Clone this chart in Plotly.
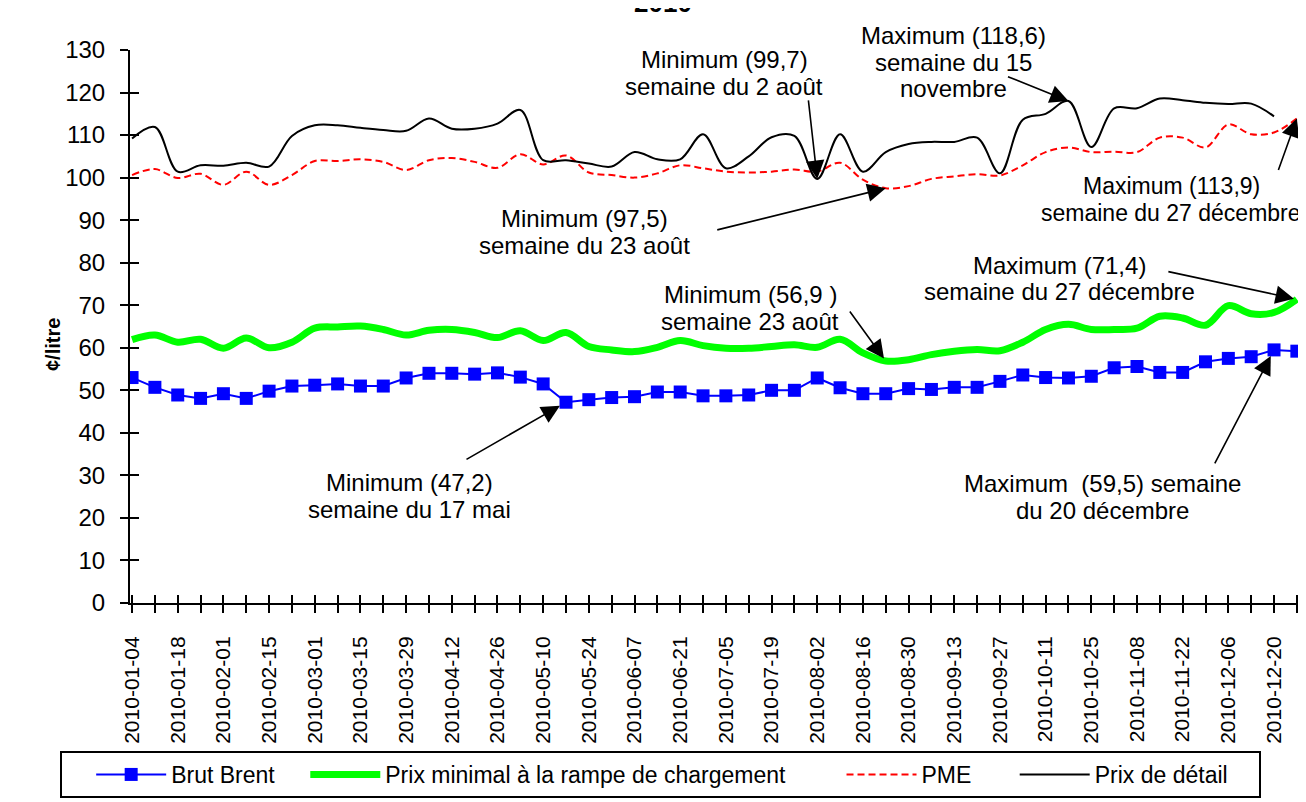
import plotly.graph_objects as go

weeks = ["2010-01-04", "2010-01-11", "2010-01-18", "2010-01-25", "2010-02-01", "2010-02-08",
         "2010-02-15", "2010-02-22", "2010-03-01", "2010-03-08", "2010-03-15", "2010-03-22",
         "2010-03-29", "2010-04-05", "2010-04-12", "2010-04-19", "2010-04-26", "2010-05-03",
         "2010-05-10", "2010-05-17", "2010-05-24", "2010-05-31", "2010-06-07", "2010-06-14",
         "2010-06-21", "2010-06-28", "2010-07-05", "2010-07-12", "2010-07-19", "2010-07-26",
         "2010-08-02", "2010-08-09", "2010-08-16", "2010-08-23", "2010-08-30", "2010-09-06",
         "2010-09-13", "2010-09-20", "2010-09-27", "2010-10-04", "2010-10-11", "2010-10-18",
         "2010-10-25", "2010-11-01", "2010-11-08", "2010-11-15", "2010-11-22", "2010-11-29",
         "2010-12-06", "2010-12-13", "2010-12-20", "2010-12-27"]

brent = [53.0, 50.7, 48.9, 48.1, 49.2, 48.1, 49.8, 51.0, 51.2, 51.5, 51.0, 51.0, 52.9,
         54.0, 54.0, 53.8, 54.1, 53.1, 51.5, 47.2, 47.8, 48.3, 48.5, 49.6, 49.6, 48.7,
         48.7, 48.9, 50.0, 50.0, 52.9, 50.6, 49.2, 49.2, 50.4, 50.2, 50.7, 50.7, 52.1,
         53.6, 53.0, 52.9, 53.3, 55.3, 55.6, 54.2, 54.2, 56.7, 57.5, 57.9, 59.5, 59.2]

rack = [61.9, 63.0, 61.3, 62.0, 59.9, 62.3, 60.0, 61.3, 64.6, 64.9, 65.1, 64.3, 63.0,
        64.1, 64.3, 63.6, 62.4, 64.0, 61.7, 63.6, 60.3, 59.5, 59.1, 60.1, 61.7, 60.5,
        59.9, 59.9, 60.3, 60.7, 60.1, 62.0, 58.8, 56.9, 57.2, 58.4, 59.2, 59.6, 59.3,
        61.3, 64.3, 65.5, 64.3, 64.3, 64.6, 67.4, 67.0, 65.3, 69.9, 68.0, 68.3, 71.4]

pme = [100.6, 102.0, 99.9, 100.9, 98.3, 101.4, 98.3, 100.6, 103.9, 103.9, 104.3, 103.7, 101.8,
       104.1, 104.6, 103.7, 102.3, 105.5, 103.1, 105.2, 101.2, 100.6, 100.0, 101.0, 102.9, 102.2,
       101.4, 101.2, 101.4, 101.9, 101.4, 103.5, 99.5, 97.5, 98.0, 99.7, 100.3, 100.8, 100.5,
       102.9, 106.0, 107.1, 106.0, 106.1, 106.0, 109.4, 109.4, 107.1, 112.5, 110.2, 110.6, 113.9]

retail = [109.2, 111.9, 101.4, 102.9, 102.8, 103.5, 102.6, 109.8, 112.3, 112.3, 111.7, 111.2, 111.0,
          113.9, 111.5, 111.5, 112.7, 115.9, 104.1, 104.1, 103.3, 102.6, 106.0, 104.3, 104.3, 110.2,
          102.2, 105.0, 109.5, 109.8, 99.7, 110.2, 101.4, 106.0, 107.9, 108.4, 108.4, 109.4, 101.0,
          113.6, 115.0, 118.0, 107.2, 116.3, 116.3, 118.6, 118.2, 117.6, 117.3, 117.4, 114.4]

tick_labels = [w if i % 2 == 0 else "" for i, w in enumerate(weeks)]

FONT = "Liberation Sans, Arial, sans-serif"
W_FIG, H_FIG = 1306, 802
L, R, T, B = 122, 16, 42, 192
PW, PH = W_FIG - L - R, H_FIG - T - B
XR = [-0.09, 51.05]
NB = "\u00a0"


def px(xp):
    return (xp - L) / PW


def py(yp):
    return (H_FIG - B - yp) / PH


fig = go.Figure()

fig.add_trace(go.Scatter(
    x=weeks, y=brent, name="Brut Brent" + NB * 4, mode="lines+markers",
    line=dict(color="#0000FF", width=2),
    marker=dict(symbol="square", size=13, color="#0000FF")))
fig.add_trace(go.Scatter(
    x=weeks, y=rack, name="Prix minimal à la rampe de chargement" + NB * 8, mode="lines",
    line=dict(color="#00FF00", width=7, shape="spline", smoothing=1.0)))
fig.add_trace(go.Scatter(
    x=weeks, y=pme, name="PME" + NB * 6, mode="lines",
    line=dict(color="#FF0000", width=2, dash="7px,4px", shape="spline", smoothing=1.0)))
fig.add_trace(go.Scatter(
    x=weeks[:len(retail)], y=retail, name="Prix de détail" + NB * 4, mode="lines",
    line=dict(color="#000000", width=2, shape="spline", smoothing=1.0)))

# invisible trace carrying the overlay axes (inner half of the crossing tick marks)
fig.add_trace(go.Scatter(x=[0], y=[None], xaxis="x2", yaxis="y2", mode="lines",
                         showlegend=False, hoverinfo="skip"))

fig.update_layout(
    width=W_FIG, height=H_FIG,
    margin=dict(l=L, r=R, t=T, b=B),
    paper_bgcolor="white", plot_bgcolor="white",
    font=dict(family=FONT, size=22, color="black"),
    showlegend=True,
    legend=dict(orientation="h", x=px(52), y=py(762), xanchor="left", yanchor="top",
                bordercolor="black", borderwidth=2, bgcolor="white",
                font=dict(family=FONT, size=23, color="black"),
                title=dict(text=NB * 3, font=dict(family=FONT, size=23), side="left"),
                itemwidth=70, traceorder="normal"),
    xaxis=dict(type="category", range=XR, showgrid=False, zeroline=False,
               showline=True, linecolor="black", linewidth=2,
               tickmode="array", tickvals=weeks, ticktext=tick_labels,
               ticks="outside", ticklen=8, tickwidth=1.5, tickcolor="black",
               tickangle=-90, tickfont=dict(family=FONT, size=21),
               ticklabelstandoff=15),
    yaxis=dict(range=[0, 130], dtick=10, showgrid=False, zeroline=False,
               showline=True, linecolor="black", linewidth=2,
               ticks="outside", ticklen=8, tickwidth=1.5, tickcolor="black",
               tickfont=dict(family=FONT, size=24), ticklabelstandoff=10),
    xaxis2=dict(overlaying="x", anchor="y2", range=XR, showgrid=False, zeroline=False,
                showline=False, tickmode="array", tickvals=list(range(len(weeks))),
                ticks="inside", ticklen=8, tickwidth=1.5, tickcolor="black",
                showticklabels=False),
    yaxis2=dict(overlaying="y", anchor="x2", range=[0, 130], dtick=10, showgrid=False,
                zeroline=False, showline=False, ticks="inside", ticklen=9, tickwidth=1.5,
                tickcolor="black", showticklabels=False),
)

ann = []

# title (mostly cut off at the top, as in the reference)
ann.append(dict(text="<b>2010</b>", xref="paper", yref="paper", x=px(655), y=py(-6),
                xanchor="center", yanchor="middle", showarrow=False,
                font=dict(family=FONT, size=26, color="black")))
# y-axis title
ann.append(dict(text="<b>¢/litre</b>", xref="paper", yref="paper", x=px(45), y=py(345),
                xanchor="center", yanchor="middle", showarrow=False, textangle=-90,
                font=dict(family=FONT, size=20, color="black")))

labels = [
    (["Minimum (99,7)", "semaine du 2 août"], 716, 52, 24),
    (["Maximum (118,6)", "semaine du 15", "novembre"], 945, 27, 24),
    (["Minimum (97,5)", "semaine du 23 août"], 576, 215, 24),
    (["Maximum (113,9)", "semaine du 27 décembre"], 1163, 182, 23),
    (["Maximum (71,4)", "semaine du 27 décembre"], 1051, 263, 24),
    (["Minimum (56,9 )", "semaine 23 août"], 742, 293, 24),
    (["Minimum (47,2)", "semaine du 17 mai"], 401, 486, 24),
    (["Maximum " + NB + "(59,5) semaine", "du 20 décembre"], 1094, 487, 24),
]
for lines, cx, cy, fs in labels:
    for k, s in enumerate(lines):
        ann.append(dict(text=s, xref="paper", yref="paper", x=px(cx), y=py(cy + 27.5 * k),
                        xanchor="center", yanchor="middle", showarrow=False,
                        font=dict(family=FONT, size=fs, color="black")))

arrows = [
    (weeks[30], retail[30], -9, -80, 0),
    (weeks[41], retail[41], -62, -25, 0),
    (weeks[33], pme[33], -170, 42, 0),
    (weeks[51], pme[51], -19, 53, 0),
    (weeks[51], rack[51], -130, -28, 3),
    (weeks[33], rack[33], -37, -51, 3),
    (weeks[19], brent[19], -101, 58, 7),
    (weeks[50], brent[50], -60, 115, 7),
]
for xv, yv, ax, ay, so in arrows:
    ann.append(dict(text="", x=xv, y=yv, xref="x", yref="y", ax=ax, ay=ay,
                    showarrow=True, arrowhead=2, arrowsize=2.3, arrowwidth=1.6,
                    arrowcolor="black", standoff=so))

fig.update_layout(annotations=ann)

fig.write_html("out.html")
